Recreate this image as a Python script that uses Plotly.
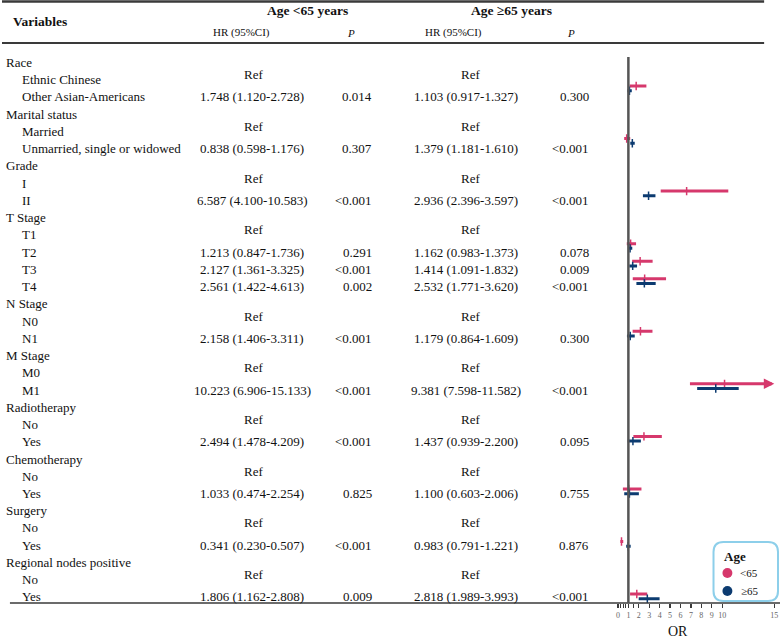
import plotly.graph_objects as go

# ---------------- data ----------------
row_labels = ["Race", "Ethnic Chinese", "Other Asian-Americans",
              "Marital status", "Married", "Unmarried, single or widowed",
              "Grade", "I", "II",
              "T Stage", "T1", "T2", "T3", "T4",
              "N Stage", "N0", "N1",
              "M Stage", "M0", "M1",
              "Radiotherapy", "No", "Yes",
              "Chemotherapy", "No", "Yes",
              "Surgery", "No", "Yes",
              "Regional nodes positive", "No", "Yes"]

# Age <65 years
hr_young = [None, "Ref", 1.748, None, "Ref", 0.838, None, "Ref", 6.587, None, "Ref", 1.213, 2.127, 2.561,
            None, "Ref", 2.158, None, "Ref", 10.223, None, "Ref", 2.494, None, "Ref", 1.033,
            None, "Ref", 0.341, None, "Ref", 1.806]
lo_young = [None, None, 1.120, None, None, 0.598, None, None, 4.100, None, None, 0.847, 1.361, 1.422,
            None, None, 1.406, None, None, 6.906, None, None, 1.478, None, None, 0.474,
            None, None, 0.230, None, None, 1.162]
hi_young = [None, None, 2.728, None, None, 1.176, None, None, 10.583, None, None, 1.736, 3.325, 4.613,
            None, None, 3.311, None, None, 15.133, None, None, 4.209, None, None, 2.254,
            None, None, 0.507, None, None, 2.808]
p_young = [None, None, "0.014", None, None, "0.307", None, None, "<0.001", None, None, "0.291", "<0.001", "0.002",
           None, None, "<0.001", None, None, "<0.001", None, None, "<0.001", None, None, "0.825",
           None, None, "<0.001", None, None, "0.009"]

# Age >=65 years
hr_old = [None, "Ref", 1.103, None, "Ref", 1.379, None, "Ref", 2.936, None, "Ref", 1.162, 1.414, 2.532,
          None, "Ref", 1.179, None, "Ref", 9.381, None, "Ref", 1.437, None, "Ref", 1.100,
          None, "Ref", 0.983, None, "Ref", 2.818]
lo_old = [None, None, 0.917, None, None, 1.181, None, None, 2.396, None, None, 0.983, 1.091, 1.771,
          None, None, 0.864, None, None, 7.598, None, None, 0.939, None, None, 0.603,
          None, None, 0.791, None, None, 1.989]
hi_old = [None, None, 1.327, None, None, 1.610, None, None, 3.597, None, None, 1.373, 1.832, 3.620,
          None, None, 1.609, None, None, 11.582, None, None, 2.200, None, None, 2.006,
          None, None, 1.221, None, None, 3.993]
p_old = [None, None, "0.300", None, None, "<0.001", None, None, "<0.001", None, None, "0.078", "0.009", "<0.001",
         None, None, "0.300", None, None, "<0.001", None, None, "0.095", None, None, "0.755",
         None, None, "0.876", None, None, "<0.001"]

x_ticks = [0, 0.25, 0.5, 0.75, 1, 1.5, 2, 3, 4, 5, 6, 7, 8, 9, 10, 15]
x_ticklabels = ["0", "", "", "", "1", "", "2", "3", "4", "5", "6", "7", "8", "9", "10", "15"]
group_names = ["<65", "≥65"]
legend_title = "Age"

# ---------------- layout helpers ----------------
W, H = 784, 640
PINK = "#D6386C"
NAVY = "#0C3B70"
LINE = "#3a3a3a"
TXT = "#111111"
SERIF = "Liberation Serif, Times New Roman, serif"
XMAX = 15


def px(x):
    return x / W


def py(y):
    return 1 - y / H


def esc(s):
    return s.replace("<", "&lt;")


TEXT_Y0, TEXT_DY = 62.5, 17.24   # pixel of row 0, row spacing (table)
F_Y0, F_DY = 53.3, 17.52         # pixel of row 0, row spacing (forest)
AXIS_Y = 603
OFF = 2.35 / F_DY

fig = go.Figure()


def segs(hr, lo, hi, sign):
    xs, ys, mx, my = [], [], [], []
    for r in range(len(hr)):
        if isinstance(hr[r], (int, float)):
            xs += [lo[r], XMAX - 0.3 if hi[r] > XMAX else hi[r], None]
            ys += [r + sign * OFF, r + sign * OFF, None]
            mx.append(hr[r])
            my.append(r + sign * OFF)
    return xs, ys, mx, my


for hr, lo, hi, sign, col in [(hr_young, lo_young, hi_young, -1, PINK), (hr_old, lo_old, hi_old, 1, NAVY)]:
    xs, ys, mx, my = segs(hr, lo, hi, sign)
    fig.add_trace(go.Scatter(x=xs, y=ys, mode="lines", line=dict(color=col, width=3),
                             xaxis="x", yaxis="y2", showlegend=False, hoverinfo="skip"))
    fig.add_trace(go.Scatter(x=mx, y=my, mode="markers",
                             marker=dict(symbol="line-ns", size=6, line=dict(color=col, width=1.5)),
                             xaxis="x", yaxis="y2", showlegend=False, hoverinfo="skip"))

annotations = []
# arrows for CIs beyond the axis range
for hr, hi, sign, col in [(hr_young, hi_young, -1, PINK), (hr_old, hi_old, 1, NAVY)]:
    for r in range(len(hr)):
        if isinstance(hr[r], (int, float)) and hi[r] > XMAX:
            annotations.append(dict(x=XMAX, y=r + sign * OFF, xref="x", yref="y2",
                                    ax=XMAX - 1, ay=r + sign * OFF, axref="x", ayref="y2",
                                    showarrow=True, arrowhead=2, arrowsize=0.7, arrowwidth=3,
                                    arrowcolor=col, text=""))


def tx(text, x, r, anchor="center", size=13, yshift=0):
    annotations.append(dict(text=text, x=px(x), y=r, xref="paper", yref="y", xanchor=anchor,
                            yanchor="middle", showarrow=False, yshift=yshift,
                            font=dict(family=SERIF, size=size, color=TXT)))


for r, lab in enumerate(row_labels):
    if hr_young[r] is None:
        tx(lab, 2, r, anchor="left")
    else:
        tx(lab, 18, r, anchor="left")
    for hr, lo, hi, p, xc, xref_, xp in [(hr_young, lo_young, hi_young, p_young, 252, 253, 375),
                                          (hr_old, lo_old, hi_old, p_old, 467.5, 472, 594)]:
        if hr[r] == "Ref":
            tx("Ref", xref_, r, yshift=5)
        elif hr[r] is not None:
            tx(f"{hr[r]:.3f} ({lo[r]:.3f}-{hi[r]:.3f})", xc, r)
            tx(esc(p[r]), xp, r, anchor="right")


def hdr(text, x, y, anchor="center", size=13.5, bold=True, italic=False):
    t = f"<b>{text}</b>" if bold else text
    if italic:
        t = f"<i>{t}</i>"
    annotations.append(dict(text=t, x=px(x), y=py(y), xref="paper", yref="paper", xanchor=anchor,
                            yanchor="middle", showarrow=False, borderpad=0,
                            font=dict(family=SERIF, size=size, color=TXT)))


hdr("Variables", 10, 21, anchor="left")
hdr("Age &lt;65 years", 308, 10)
hdr("Age ≥65 years", 513, 10)
hdr("HR (95%CI)", 241, 33, size=11, bold=False)
hdr("HR (95%CI)", 455, 33, size=11, bold=False)
hdr("P", 352, 33, size=11, bold=False, italic=True)
hdr("P", 573, 33, size=11, bold=False, italic=True)
hdr("OR", 681, 631, size=14, bold=False)

# legend
hdr(legend_title, 727, 556, anchor="left", size=13)
hdr(esc(group_names[0]), 743, 573, anchor="left", size=11, bold=False)
hdr(esc(group_names[1]), 744, 591, anchor="left", size=11, bold=False)

shapes = []
shapes.append(dict(type="line", xref="paper", yref="paper", x0=px(0), x1=px(768), y0=py(1.5), y1=py(1.5),
                   line=dict(color=LINE, width=2.5)))
shapes.append(dict(type="line", xref="paper", yref="paper", x0=px(0), x1=px(768), y0=py(43), y1=py(43),
                   line=dict(color=LINE, width=2)))
shapes.append(dict(type="line", xref="paper", yref="paper", x0=px(8), x1=px(784), y0=py(AXIS_Y), y1=py(AXIS_Y),
                   line=dict(color=LINE, width=1.5)))
shapes.append(dict(type="line", xref="x", yref="paper", x0=1, x1=1, y0=py(57), y1=py(AXIS_Y),
                   line=dict(color="#555555", width=2.5)))


def rounded(x0, y0, x1, y1, rad):
    return (f"M {px(x0 + rad)},{py(y0)} L {px(x1 - rad)},{py(y0)} Q {px(x1)},{py(y0)} {px(x1)},{py(y0 + rad)} "
            f"L {px(x1)},{py(y1 - rad)} Q {px(x1)},{py(y1)} {px(x1 - rad)},{py(y1)} "
            f"L {px(x0 + rad)},{py(y1)} Q {px(x0)},{py(y1)} {px(x0)},{py(y1 - rad)} "
            f"L {px(x0)},{py(y0 + rad)} Q {px(x0)},{py(y0)} {px(x0 + rad)},{py(y0)} Z")


shapes.append(dict(type="path", xref="paper", yref="paper", path=rounded(717, 542, 782, 601, 10),
                   line=dict(color="#8DCFEA", width=2), fillcolor="rgba(255,255,255,0)"))
for cy, col in [(573, PINK), (591, NAVY)]:
    shapes.append(dict(type="circle", xref="paper", yref="paper", x0=px(726), x1=px(736),
                       y0=py(cy + 5), y1=py(cy - 5), fillcolor=col, line=dict(color=col, width=0)))

fig.update_layout(
    width=W, height=H,
    margin=dict(l=0, r=0, t=0, b=0),
    paper_bgcolor="white", plot_bgcolor="white",
    showlegend=False,
    xaxis=dict(domain=[px(620.7), px(778.3)], range=[0, XMAX], anchor="free", position=py(AXIS_Y),
               tickmode="array", tickvals=x_ticks, ticktext=x_ticklabels,
               ticks="outside", ticklen=4, tickwidth=1.2, tickcolor=LINE,
               showline=False, showgrid=False, zeroline=False,
               tickfont=dict(family=SERIF, size=8, color="#666666")),
    yaxis=dict(domain=[0, 1], range=[(H - TEXT_Y0) / TEXT_DY, -TEXT_Y0 / TEXT_DY],
               anchor="free", position=0, visible=False),
    yaxis2=dict(domain=[py(AXIS_Y), 1], range=[(AXIS_Y - F_Y0) / F_DY, -F_Y0 / F_DY],
                anchor="free", position=0, visible=False),
    annotations=annotations,
    shapes=shapes,
)

fig.write_html("out.html",
               config={"displayModeBar": False, "staticPlot": True},
               post_script="document.body.style.margin='0';document.body.style.overflow='hidden';")
